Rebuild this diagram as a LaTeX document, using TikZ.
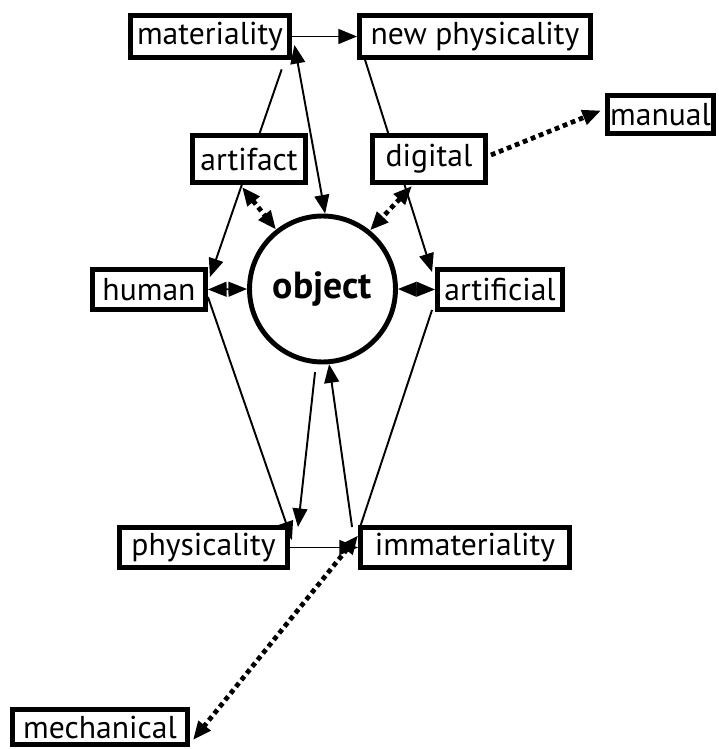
\documentclass[tikz,border=0pt]{standalone}
\usepackage{fontspec}
\setmainfont{PT Sans}
\usetikzlibrary{arrows.meta,calc,backgrounds}

\tikzset{
	box/.style={draw, line width=2.8pt, fill=white, inner sep=0pt,
		minimum height=0.8cm, font=\fontsize{18}{20}\selectfont},
	link/.style={line width=1.1pt},
	dotlink/.style={line width=2.7pt, dash pattern=on 2.7pt off 2.2pt},
	fwd/.style={-{Triangle[length=10.6pt,width=8.4pt]}},
	both/.style={{Triangle[length=10.6pt,width=8.4pt]}-{Triangle[length=10.6pt,width=8.4pt]}},
}

\begin{document}
\begin{tikzpicture}[x=0.02cm, y=-0.02cm]
		\useasboundingbox (0,0) rectangle (718,749);

		% boxes
		\node[box, minimum width=3.18cm, minimum height=0.84cm] (materiality) at (210,36.5) {materiality};
		\node[box, minimum width=4.62cm, minimum height=0.84cm] (newphys) at (475,36.5) {new physicality};
		\node[box, minimum width=2.12cm, minimum height=0.76cm] (manual) at (660.5,114.5) {manual};
		\node[box, minimum width=2.26cm, minimum height=0.94cm] (artifact) at (249,159) {artifact};
		\node[box, minimum width=2.26cm, minimum height=0.94cm] (digital) at (429,159) {digital};
		\node[box, minimum width=2.26cm] (human) at (149,289.5) {human};
		\node[box, minimum width=2.50cm] (artificial) at (500,289.5) {artificial};
		\node[box, minimum width=3.36cm] (physicality) at (203.5,547.5) {physicality};
		\node[box, minimum width=4.18cm] (immateriality) at (465,547.5) {immateriality};
		\node[box, minimum width=3.50cm, minimum height=0.70cm] (mechanical) at (100,727) {mechanical};

		\node[draw, circle, line width=2.8pt, fill=white, minimum size=2.92cm,
			font=\fontsize{21.5}{23}\selectfont\bfseries] (object) at (322.5,289) {object};

		\begin{scope}[on background layer]
		% solid links
		\draw[link, fwd] (materiality.east) -- (newphys.west);
		\draw[link, fwd, shorten <=0.2cm] ($(materiality.south east)+(-7,0)$) -- ($(human.north east)+(2,10)$);
		\draw[link, both] ($(materiality.south east)+(2.5,-15)$) -- (object.88);
		\draw[link, fwd] ($(newphys.south west)+(8,0)$) -- ($(artificial.north west)+(-3,5)$);
		\draw[link, both] (human.east) -- (object.west);
		\draw[link, both] (object.east) -- (artificial.west);
		\draw[link, fwd] ($(human.east)+(0,7.5)$) -- ($(physicality.north east)+(2,15)$);
		\draw[link] ($(artificial.south west)+(-3,-2)$) -- ($(immateriality.north west)+(2,2)$);
		\draw[link, fwd, shorten <=0.16cm] (object.265) -- ($(physicality.north east)+(8,2)$);
		\draw[link, fwd] ($(immateriality.north west)+(-6,2)$) -- (object.275);
		\draw[link, fwd] (physicality.east) -- (immateriality.west);

		% dotted links
		\draw[dotlink, both] ($(artifact.south)+(-7,2)$) -- (object.128);
		\draw[dotlink, both] ($(digital.south)+(-17,1)$) -- (object.51);
		\draw[dotlink, fwd] ($(digital.east)+(3,-4)$) -- ($(manual.west)+(-4,-4)$);
		\draw[dotlink, both] ($(immateriality.west)+(0,-12)$) -- ($(mechanical.east)+(3,13)$);
		\end{scope}
	\end{tikzpicture}
\end{document}
